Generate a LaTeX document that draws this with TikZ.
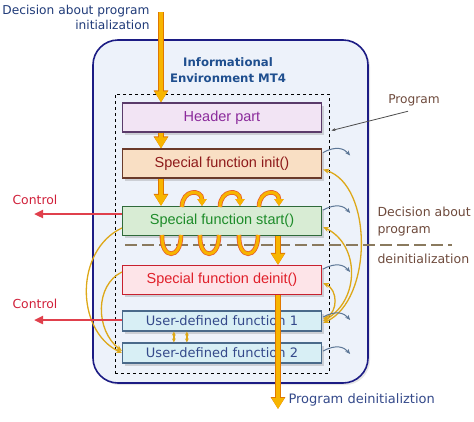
\documentclass[tikz,border=0pt]{standalone}
\usepackage{fontspec}
\setmainfont{DejaVu Sans}
\newfontfamily\boxfont{Liberation Sans}
\usetikzlibrary{arrows.meta,shadows,calc}

\definecolor{envfill}{HTML}{EDF2FA}
\definecolor{envline}{HTML}{1C1C84}
\definecolor{flowgold}{HTML}{F7B500}
\definecolor{flowedge}{HTML}{E07800}
\definecolor{loopedge}{HTML}{E8602A}
\definecolor{callgold}{HTML}{DDA818}
\definecolor{retblue}{HTML}{5C7696}
\definecolor{ctlred}{HTML}{E0404C}
\definecolor{ctltext}{HTML}{D0203A}
\definecolor{decblue}{HTML}{1F3A78}
\definecolor{titleblue}{HTML}{1F4F8F}
\definecolor{brownlbl}{HTML}{6E4A3C}
\definecolor{divbrown}{HTML}{8A7A5E}
\definecolor{exitblue}{HTML}{34498A}
\definecolor{hdrfill}{HTML}{F2E4F4}
\definecolor{hdrline}{HTML}{5A3A6A}
\definecolor{hdrtext}{HTML}{8B2A9B}
\definecolor{initfill}{HTML}{F9DFC4}
\definecolor{initline}{HTML}{6A3A2A}
\definecolor{inittext}{HTML}{8E1A1A}
\definecolor{startfill}{HTML}{D8ECD4}
\definecolor{startline}{HTML}{2F6A3A}
\definecolor{starttext}{HTML}{1E8C2A}
\definecolor{deinitfill}{HTML}{FDE4E8}
\definecolor{deinitline}{HTML}{C8202E}
\definecolor{deinittext}{HTML}{E0202A}
\definecolor{udffill}{HTML}{D8EFF5}
\definecolor{udfline}{HTML}{4A6A8A}

\begin{document}
\begin{tikzpicture}[x=1pt,y=-1pt,
  funcbox/.style={draw,line width=1.2pt,minimum width=199pt,minimum height=29pt,inner sep=0pt,
    font=\boxfont\fontsize{14.5}{16}\selectfont,
    drop shadow={shadow xshift=2pt,shadow yshift=-2.5pt,opacity=0.3}},
  userbox/.style={funcbox,draw=udfline,fill=udffill,text=exitblue,minimum height=20pt,font=\fontsize{13}{14}\selectfont},
  flow/.style={line width=3.8pt,flowgold,-{Triangle[width=12pt,length=11pt]},
    preaction={draw,flowedge,line width=5.5pt,-{Triangle[width=14pt,length=12pt]}}},
  loopband/.style={line width=3pt,flowgold,preaction={draw,loopedge,line width=4.6pt}},
  callcurve/.style={line width=1.3pt,callgold,{Stealth[length=6pt,width=5pt]}-{Stealth[length=6pt,width=5pt]}},
  retarrow/.style={line width=1pt,retblue,-{Stealth[length=5pt,width=4pt]}},
  ctlarrow/.style={line width=2.5pt,ctlred,-{Triangle[width=8pt,length=9pt]}}]

  \useasboundingbox (0,0) rectangle (474,421);

  % environment and program frame
  \node[draw=envline,line width=1.6pt,fill=envfill,rounded corners=25pt,minimum width=275pt,minimum height=343pt,
    drop shadow={shadow xshift=2pt,shadow yshift=-2pt,opacity=0.2}] (envbox) at (230.5,211.5) {};
  \node[text=titleblue,font=\bfseries\fontsize{11.7}{16}\selectfont,align=center] (envtitle) at (228,70)
    {Informational\\Environment MT4};
  \node[draw,dashed,line width=1pt,minimum width=214pt,minimum height=279pt] (prog) at (222,233.5) {};

  % divider
  \coordinate (divl) at (125,245);
  \coordinate (divr) at (452,245);
  \draw[divbrown,line width=2pt,dash pattern=on 12pt off 5pt] (divl) -- (divr);

  % functions
  \node[funcbox,draw=hdrline,fill=hdrfill,text=hdrtext] (header) at (222,117.5) {Header part};
  \node[funcbox,draw=initline,fill=initfill,text=inittext] (init) at (222,163.5) {Special function init()};
  \node[funcbox,draw=startline,fill=startfill,text=starttext] (start) at (222,221) {Special function start()};
  \node[funcbox,draw=deinitline,fill=deinitfill,text=deinittext] (deinit) at (222,280) {Special function deinit()};
  \node[userbox] (udf1) at (222,321) {User-defined function 1};
  \node[userbox] (udf2) at (222,353) {User-defined function 2};

  % main flow
  \coordinate (entry) at (161,12);
  \coordinate (exit) at (278,409);
  \draw[flow] (entry) -- (entry |- header.north);
  \draw[flow] (entry |- header.south) -- (entry |- init.north);
  \draw[flow] (entry |- init.south) -- (entry |- start.north);
  \draw[flow] (exit |- start.south) -- (exit |- deinit.north);
  \draw[flow] (exit |- deinit.south) -- (exit);

  % start() loops
  \foreach \lx in {182,220,259}{
    \draw[loopband] (\lx-1,235) .. controls (\lx-1,260) and (\lx-21,260) .. (\lx-20,235);
    \draw[loopband,-{Triangle[width=9pt,length=7pt]}] (\lx,207) .. controls (\lx,189) and (\lx+20,189) .. (\lx+20,206);
  }

  % calls to user-defined functions
  \draw[callcurve] ($(udf1.east)+(1,2)$) .. controls (373,300) and (373,185) .. ($(init.east)+(1,6)$);
  \draw[callcurve] ($(udf1.east)+(1,0)$) .. controls (360,300) and (360,245) .. ($(start.east)+(1,6)$);
  \draw[callcurve] ($(udf1.east)+(1,-2)$) .. controls (338,312) and (338,290) .. ($(deinit.east)+(1,3)$);
  \draw[callcurve,-{Stealth[length=6pt,width=5pt]}] ($(start.west)+(0,7)$) .. controls (75,250) and (75,330) .. ($(udf2.west)+(0,0)$);
  \draw[callcurve,-{Stealth[length=6pt,width=5pt]}] ($(deinit.west)+(0,-8)$) .. controls (95,285) and (95,330) .. ($(udf2.west)+(0,-2)$);
  \draw[line width=1.5pt,callgold,{Stealth[length=4pt,width=4pt]}-{Stealth[length=4pt,width=4pt]}] ($(udf1.south west)+(52,0)$) -- ($(udf2.north west)+(52,0)$);
  \draw[line width=1.5pt,callgold,{Stealth[length=4pt,width=4pt]}-{Stealth[length=4pt,width=4pt]}] ($(udf1.south west)+(65,0)$) -- ($(udf2.north west)+(65,0)$);

  % returns
  \foreach \b/\dy in {init/-11,start/-11,deinit/-11,udf1/-4,udf2/-2}
    \draw[retarrow] ($(\b.east)+(1,\dy)$) .. controls ($(\b.east)+(14,\dy-7)$) and ($(\b.east)+(22,\dy-4)$) .. ($(\b.east)+(28,\dy+3)$);

  % control
  \coordinate (ctl1) at (34,214);
  \coordinate (ctl2) at (34,320);
  \draw[ctlarrow] (ctl1 -| start.west) -- (ctl1);
  \draw[ctlarrow] (ctl2 -| udf1.west) -- (ctl2);
  \node[text=ctltext,font=\fontsize{12.4}{14}\selectfont] (ctl1lbl) at (35,200) {Control};
  \node[text=ctltext,font=\fontsize{12.4}{14}\selectfont] (ctl2lbl) at (35,304) {Control};

  % labels
  \node[text=decblue,font=\fontsize{12.2}{15}\selectfont,align=right,anchor=north east] (decinit) at (153,2)
    {Decision about program\\initialization};
  \node[text=brownlbl,font=\fontsize{12.2}{14}\selectfont] (proglbl) at (414,100) {Program};
  \draw[black!70,line width=0.8pt,-{Stealth[length=4pt,width=3pt]}] ($(proglbl.south)+(-6,2)$) -- ($(prog.north east)+(2,37)$);
  \node[text=brownlbl,font=\fontsize{12.5}{17}\selectfont,align=left,anchor=north west] (decdeinit) at (374,203)
    {Decision about\\program};
  \node[text=brownlbl,font=\fontsize{12.5}{14}\selectfont,anchor=west] (deinitlbl) at (374,259) {deinitialization};
  \node[text=exitblue,font=\fontsize{13}{15}\selectfont,anchor=west] (exitlbl) at (285,400) {Program deinitializtion};
\end{tikzpicture}
\end{document}
